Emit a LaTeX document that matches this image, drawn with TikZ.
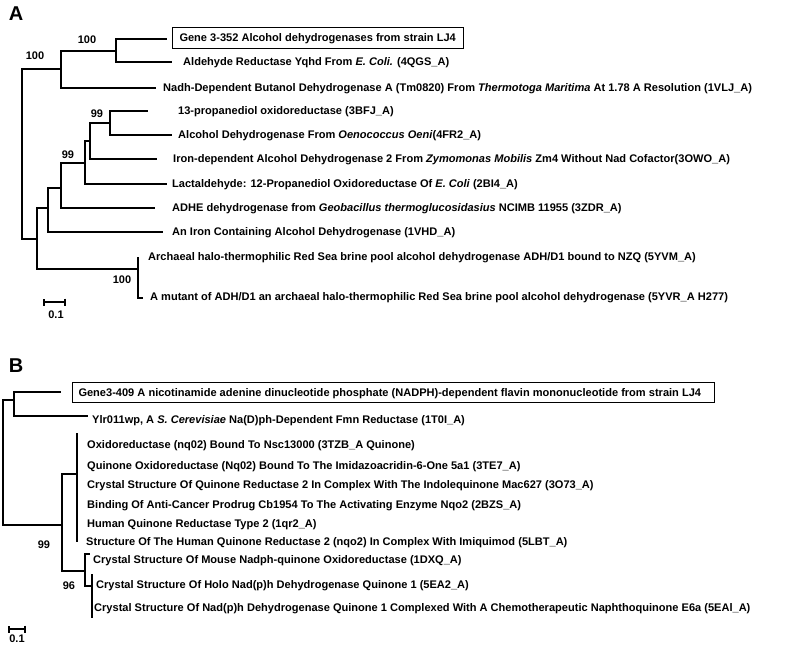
\documentclass[tikz,border=0pt]{standalone}
\usepackage{fontspec}
\setmainfont{Liberation Sans}
\usetikzlibrary{arrows.meta}
\begin{document}
\begin{tikzpicture}[x=1pt,y=-1pt,
  br/.style={line width=2.3pt,line join=miter},
  brthin/.style={line width=1.7pt},
  leaf/.style={anchor=west,inner sep=0pt,text height=7.9pt,text depth=0pt,font=\fontsize{11.05}{13}\selectfont\bfseries},
  boxleaf/.style={leaf,draw,line width=1pt},
  boot/.style={inner sep=0pt,font=\fontsize{11}{13}\selectfont\bfseries},
  panel/.style={inner sep=0pt,font=\fontsize{20}{22}\selectfont\bfseries},
  scalebar/.style={line width=1.7pt,{Bar[width=7pt,line width=1.7pt]}-{Bar[width=7pt,line width=1.7pt]}}]
\useasboundingbox (0,0) rectangle (798,646);
\fill[white] (0,0) rectangle (798,646);

% ---------------- Panel A ----------------
\node[panel] (pA) at (16,14) {A};
\coordinate (R) at (22,154);
\coordinate (a1) at (61,69);
\coordinate (a2) at (116,51);
\coordinate (tG) at (167,39);
\coordinate (tAld) at (172,62);
\coordinate (tNadh) at (156,88);
\coordinate (b1) at (37,239);
\coordinate (b2) at (48,208);
\coordinate (b3) at (61,188);
\coordinate (b4) at (85,163);
\coordinate (b5) at (90,141);
\coordinate (b6) at (110,123);
\coordinate (t13) at (148,111);
\coordinate (tAlc) at (172,135);
\coordinate (tIron) at (157,159);
\coordinate (tLac) at (167,184);
\coordinate (tADHE) at (155,208);
\coordinate (tAn) at (163,232);
\coordinate (b7) at (138,269);
\coordinate (tArc) at (138,257);
\coordinate (tMut) at (143,298);

\draw[br] (R) |- (a1);
\draw[br] (R) |- (b1);
\draw[br] (a1) |- (a2);
\draw[br] (a1) |- (tNadh);
\draw[br] (a2) |- (tG);
\draw[br] (a2) |- (tAld);
\draw[br] (b1) |- (b2);
\draw[br] (b1) |- (b7);
\draw[br] (b2) |- (b3);
\draw[br] (b2) |- (tAn);
\draw[br] (b3) |- (b4);
\draw[br] (b3) |- (tADHE);
\draw[br] (b4) |- (b5);
\draw[br] (b4) |- (tLac);
\draw[br] (b5) |- (b6);
\draw[br] (b5) |- (tIron);
\draw[br] (b6) |- (t13);
\draw[br] (b6) |- (tAlc);
\draw[br] (b7) -- (tArc);
\draw[br] (b7) |- (tMut);

\node[boxleaf,inner xsep=7pt,inner ysep=7pt] (LG) at (172,38) {\makebox[277pt][l]{Gene 3-352 Alcohol dehydrogenases from strain LJ4}};
\node[leaf] (LAld) at (183,62) {Aldehyde Reductase Yqhd From \textit{E. Coli.} (4QGS\_A)};
\node[leaf] (LNadh) at (163,88) {Nadh-Dependent Butanol Dehydrogenase A (Tm0820) From \textit{Thermotoga Maritima} At 1.78 A Resolution (1VLJ\_A)};
\node[leaf] (L13) at (178,111) {13-propanediol oxidoreductase (3BFJ\_A)};
\node[leaf] (LAlc) at (178,135) {Alcohol Dehydrogenase From \textit{Oenococcus Oeni}(4FR2\_A)};
\node[leaf] (LIron) at (173,159) {Iron-dependent Alcohol Dehydrogenase 2 From \textit{Zymomonas Mobilis} Zm4 Without Nad Cofactor(3OWO\_A)};
\node[leaf] (LLac) at (172,184) {Lactaldehyde: 12-Propanediol Oxidoreductase Of \textit{E. Coli} (2BI4\_A)};
\node[leaf] (LADHE) at (172,208) {ADHE dehydrogenase from \textit{Geobacillus thermoglucosidasius} NCIMB 11955 (3ZDR\_A)};
\node[leaf] (LAn) at (172,232) {An Iron Containing Alcohol Dehydrogenase (1VHD\_A)};
\node[leaf] (LArc) at (148,257) {Archaeal halo-thermophilic Red Sea brine pool alcohol dehydrogenase ADH/D1 bound to NZQ (5YVM\_A)};
\node[leaf] (LMut) at (150,297) {A mutant of ADH/D1 an archaeal halo-thermophilic Red Sea brine pool alcohol dehydrogenase (5YVR\_A H277)};

\node[boot] (bsA1) at (87,40) {100};
\node[boot] (bsA2) at (35,56) {100};
\node[boot] (bsA3) at (97,114) {99};
\node[boot] (bsA4) at (68,155) {99};
\node[boot] (bsA5) at (122,280) {100};

\coordinate (sA1) at (43,302);
\coordinate (sA2) at (66,302);
\draw[scalebar] (sA1) -- (sA2);
\node[boot] (sAl) at (56,315) {0.1};

% ---------------- Panel B ----------------
\node[panel] (pB) at (16,366) {B};
\coordinate (R2) at (3,460);
\coordinate (c1) at (14,400);
\coordinate (tG2) at (61,392);
\coordinate (tYlr) at (88,416);
\coordinate (c2) at (62,525);
\coordinate (c3) at (77,474);
\coordinate (c3t) at (77,433);
\coordinate (c3b) at (77,542);
\coordinate (c4) at (85,571);
\coordinate (tMouse) at (90,554);
\coordinate (c5) at (92,586);
\coordinate (c5t) at (92,574);
\coordinate (c5b) at (92,618);

\draw[br] (R2) |- (c1);
\draw[br] (R2) |- (c2);
\draw[br] (c1) |- (tG2);
\draw[br] (c1) |- (tYlr);
\draw[br] (c2) |- (c3);
\draw[brthin] (c3t) -- (c3b);
\draw[br] (c2) |- (c4);
\draw[br] (c4) |- (tMouse);
\draw[br] (c4) |- (c5);
\draw[br] (c5t) -- (c5b);

\node[boxleaf,inner xsep=6pt,inner ysep=6pt] (LG2) at (72,392.5) {\makebox[630pt][l]{Gene3-409 A nicotinamide adenine dinucleotide phosphate (NADPH)-dependent flavin mononucleotide from strain LJ4}};
\node[leaf] (LYlr) at (92,420) {Ylr011wp, A \textit{S. Cerevisiae} Na(D)ph-Dependent Fmn Reductase (1T0I\_A)};
\node[leaf] (LQ1) at (87,445) {Oxidoreductase (nq02) Bound To Nsc13000 (3TZB\_A Quinone)};
\node[leaf] (LQ2) at (87,466) {Quinone Oxidoreductase (Nq02) Bound To The Imidazoacridin-6-One 5a1 (3TE7\_A)};
\node[leaf] (LQ3) at (87,485) {Crystal Structure Of Quinone Reductase 2 In Complex With The Indolequinone Mac627 (3O73\_A)};
\node[leaf] (LQ4) at (87,505) {Binding Of Anti-Cancer Prodrug Cb1954 To The Activating Enzyme Nqo2 (2BZS\_A)};
\node[leaf] (LQ5) at (87,524) {Human Quinone Reductase Type 2 (1qr2\_A)};
\node[leaf] (LQ6) at (86,542) {Structure Of The Human Quinone Reductase 2 (nqo2) In Complex With Imiquimod (5LBT\_A)};
\node[leaf] (LMo) at (93,560) {Crystal Structure Of Mouse Nadph-quinone Oxidoreductase (1DXQ\_A)};
\node[leaf] (LHo) at (96,585) {Crystal Structure Of Holo Nad(p)h Dehydrogenase Quinone 1 (5EA2\_A)};
\node[leaf] (LNq) at (94,608) {Crystal Structure Of Nad(p)h Dehydrogenase Quinone 1 Complexed With A Chemotherapeutic Naphthoquinone E6a (5EAl\_A)};

\node[boot] (bsB1) at (44,545) {99};
\node[boot] (bsB2) at (69,586) {96};

\coordinate (sB1) at (8,629);
\coordinate (sB2) at (26,629);
\draw[scalebar] (sB1) -- (sB2);
\node[boot] (sBl) at (17,639) {0.1};
\end{tikzpicture}
\end{document}
